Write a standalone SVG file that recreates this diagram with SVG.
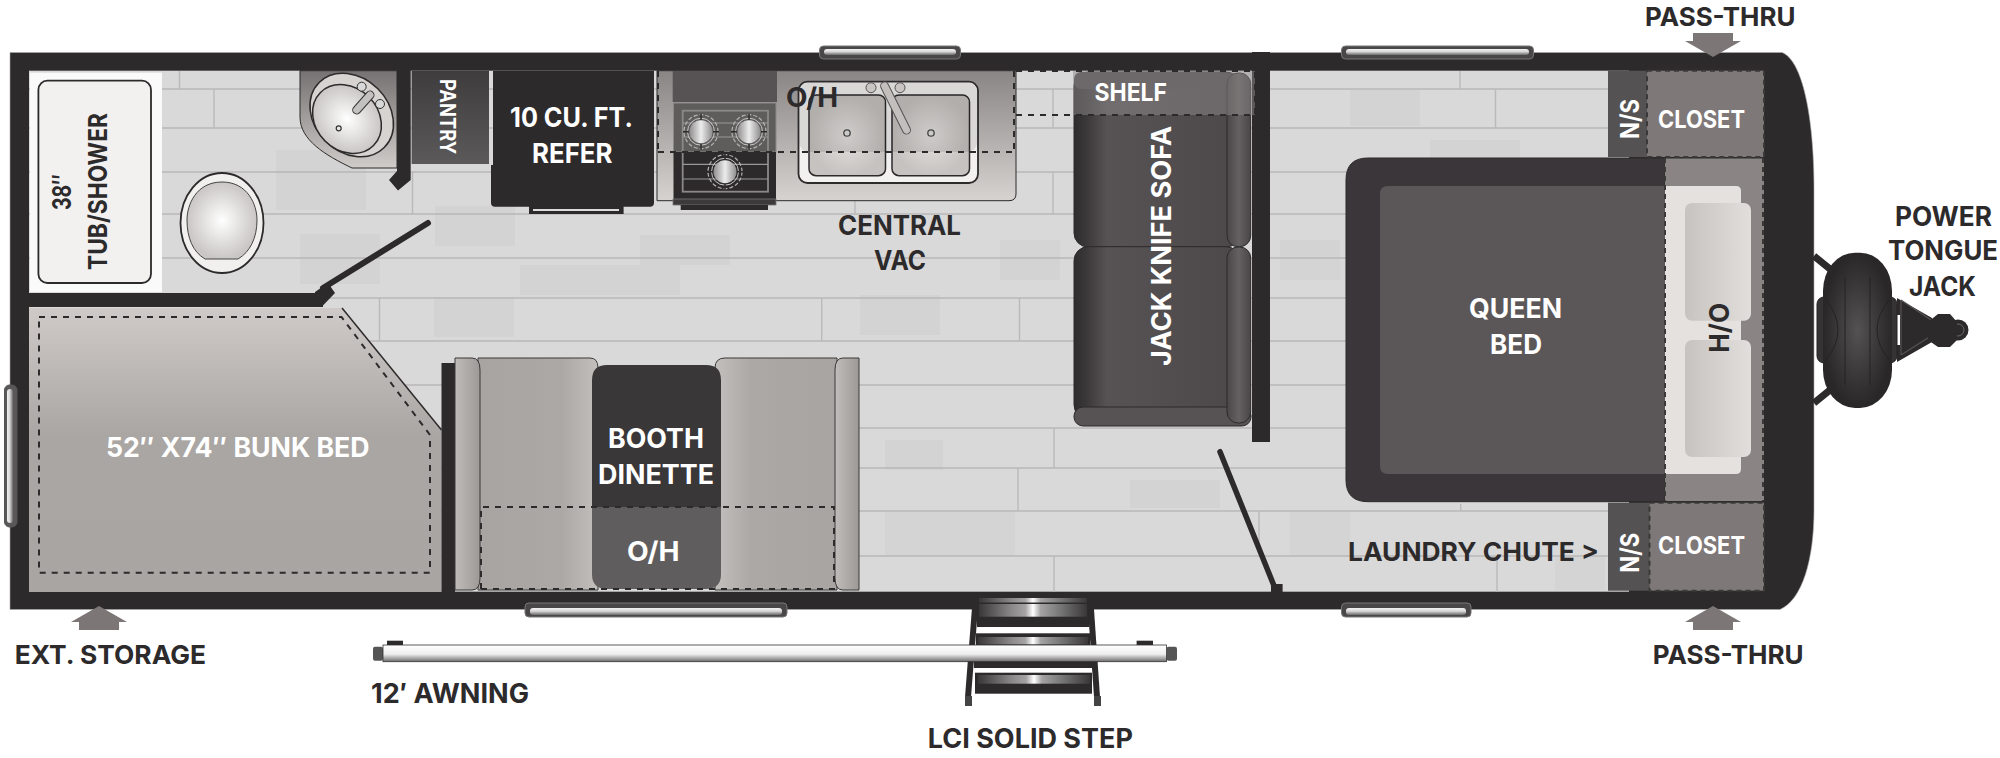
<svg xmlns="http://www.w3.org/2000/svg" width="2000" height="758" viewBox="0 0 2000 758">
<style>
.t{font-family:"Inter","Liberation Sans",sans-serif;font-weight:700;fill:#2d2a2c;font-size:27px}
.w{fill:#fff}
.s20{font-size:21px}.s23{font-size:24px}.s24{font-size:26px}.s25{font-size:26px}
.d{fill:none;stroke:#2d2a2c;stroke-width:2;stroke-dasharray:6 6}
.dl{fill:none;stroke:#3b3839;stroke-width:2;stroke-dasharray:5 4}
.wall{fill:#2d2a2c}
.pl{stroke:#b9b7b7;stroke-width:1.700;fill:none}
.pj{stroke:#bbb9b9;stroke-width:1.400;fill:none}
.arr{fill:#7d7676}
</style>
<defs>
<linearGradient id="gBunk" x1="0" y1="0" x2="0" y2="1"><stop offset="0" stop-color="#cfcac7"/><stop offset=".45" stop-color="#aaa6a3"/><stop offset="1" stop-color="#a9a5a2"/></linearGradient>
<linearGradient id="gSeat" x1="0" y1="0" x2="1" y2="0"><stop offset="0" stop-color="#a8a4a1"/><stop offset=".7" stop-color="#aca8a5"/><stop offset="1" stop-color="#c3bfbc"/></linearGradient>
<linearGradient id="gSeatR" x1="1" y1="0" x2="0" y2="0"><stop offset="0" stop-color="#a8a4a1"/><stop offset=".7" stop-color="#aca8a5"/><stop offset="1" stop-color="#c3bfbc"/></linearGradient>
<linearGradient id="gArm" x1="0" y1="0" x2="1" y2="0"><stop offset="0" stop-color="#c0bcb9"/><stop offset="1" stop-color="#9d9996"/></linearGradient>
<linearGradient id="gVan" x1="0" y1="0" x2="0" y2="1"><stop offset="0" stop-color="#767172"/><stop offset="1" stop-color="#d0ccc9"/></linearGradient>
<linearGradient id="gCnt" x1="0" y1="0" x2="0" y2="1"><stop offset="0" stop-color="#8a8585"/><stop offset="1" stop-color="#d6d3d0"/></linearGradient>
<linearGradient id="gPan" x1="0" y1="0" x2="0" y2="1"><stop offset="0" stop-color="#3f3c3e"/><stop offset="1" stop-color="#5c595a"/></linearGradient>
<radialGradient id="gBowl"><stop offset="0" stop-color="#fff"/><stop offset="1" stop-color="#c9c6c4"/></radialGradient>
<radialGradient id="gSink"><stop offset="0" stop-color="#e6e3e1"/><stop offset="1" stop-color="#c6c2bf"/></radialGradient>
<linearGradient id="gSofa" x1="0" y1="0" x2="1" y2="0"><stop offset="0" stop-color="#2f2c2e"/><stop offset=".08" stop-color="#3c393b"/><stop offset=".2" stop-color="#575355"/><stop offset="1" stop-color="#4c484a"/></linearGradient>
<linearGradient id="gSofaArm" x1="0" y1="0" x2="1" y2="0"><stop offset="0" stop-color="#4b4749"/><stop offset=".5" stop-color="#656162"/><stop offset="1" stop-color="#4a4648"/></linearGradient>
<linearGradient id="gBand" x1="0" y1="0" x2="0" y2="1"><stop offset="0" stop-color="#f2f2f2"/><stop offset=".45" stop-color="#d8d8d8"/><stop offset="1" stop-color="#6a6868"/></linearGradient>
<linearGradient id="gBandV" x1="0" y1="0" x2="1" y2="0"><stop offset="0" stop-color="#f2f2f2"/><stop offset=".45" stop-color="#d8d8d8"/><stop offset="1" stop-color="#6a6868"/></linearGradient>
<linearGradient id="gTube" x1="0" y1="0" x2="0" y2="1"><stop offset="0" stop-color="#fff"/><stop offset=".55" stop-color="#eee"/><stop offset="1" stop-color="#6d6a6a"/></linearGradient>
<linearGradient id="gTread" x1="0" y1="0" x2="1" y2="0"><stop offset="0" stop-color="#3a3739"/><stop offset=".3" stop-color="#8a8888"/><stop offset=".43" stop-color="#a5a3a3"/><stop offset=".5" stop-color="#fff"/><stop offset=".57" stop-color="#a5a3a3"/><stop offset=".75" stop-color="#777"/><stop offset="1" stop-color="#3a3739"/></linearGradient>
<linearGradient id="gPillow" x1="0" y1="0" x2="1" y2="0"><stop offset="0" stop-color="#c6c3c0"/><stop offset="1" stop-color="#e1dedb"/></linearGradient>
<radialGradient id="gTire"><stop offset="0" stop-color="#555253"/><stop offset=".7" stop-color="#363335"/><stop offset="1" stop-color="#2a2729"/></radialGradient>
<linearGradient id="gBurn" x1="0" y1="0" x2="1" y2="0"><stop offset="0" stop-color="#8f8d8d"/><stop offset=".5" stop-color="#ececec"/><stop offset="1" stop-color="#8f8d8d"/></linearGradient>
<g id="burner"><circle r="17" fill="none" stroke="#b5b3b3" stroke-width="1.200" stroke-dasharray="4 2"/><circle r="13.500" fill="none" stroke="#c8c6c6" stroke-width="1"/><circle r="11.500" fill="url(#gBurn)"/><path d="M-18 0H-12M12 0H18M0 -18V-12M0 12V18" stroke="#2d2a2c" stroke-width="1.500"/></g>
<path id="arrowUp" class="arr" d="M0 0L28 16H20V24H-20V16H-28Z"/>
</defs>

<g id="shell"><path class="wall" stroke="#aaa" stroke-width=".6" d="M10 52.500H1782C1802 60 1814 115 1814 190V510C1814 560 1802 600 1780 609.500H10Z"/></g>

<g id="floor">
<rect x="29" y="70.700" width="1600" height="521" fill="#d9d9d9"/>
<g fill="#000" opacity=".018">
<rect x="276" y="150" width="90" height="60"/><rect x="300" y="234" width="80" height="50"/><rect x="435" y="206" width="80" height="40"/><rect x="520" y="265" width="160" height="30"/>
<rect x="434" y="297" width="80" height="40"/><rect x="640" y="235" width="90" height="30"/><rect x="860" y="295" width="80" height="40"/><rect x="1000" y="240" width="60" height="40"/>
<rect x="885" y="440" width="58" height="30"/><rect x="885" y="512" width="130" height="44"/><rect x="1130" y="480" width="90" height="28"/><rect x="1290" y="512" width="60" height="44"/><rect x="1350" y="90" width="70" height="36"/>
<rect x="1280" y="240" width="60" height="40"/><rect x="1555" y="556" width="50" height="34"/><rect x="1430" y="140" width="90" height="18"/></g>
<g class="pl"><path d="M29 89H1608M29 128H1608M29 172H1608M29 214H1608M29 258H1608M29 298H1608M29 341H1608M29 385H1608M29 428H1608M29 468H1608M29 511H1608M29 556H1608"/></g>
<g class="pj"><path d="M179.500 71V89M214 89V128M412.500 172V214M379.500 298V341M1053 89V128M1053 172V214M855 200V214M821.700 298V341M1019.500 298V341M1460 71V89M1495.500 89V128M1054 428V468M1018 468V511M1259 511V556M1054 556V592M1460.700 504V511M1497 556V592"/></g>
</g>

<g id="tub">
<rect x="30" y="72.700" width="132" height="219.300" fill="#fafafa"/>
<rect x="38.400" y="80.700" width="112.600" height="202.300" rx="9" fill="#f2f1f0" stroke="#2d2a2c" stroke-width="1.800"/>
<text class="t s25" textLength="36" lengthAdjust="spacingAndGlyphs" transform="translate(71.400 210) rotate(-90)">38″</text>
<text class="t s25" textLength="157" lengthAdjust="spacingAndGlyphs" transform="translate(107 270) rotate(-90)">TUB/SHOWER</text>
</g>

<g id="toilet">
<ellipse cx="222" cy="223" rx="41.500" ry="50" fill="#f1f0ef" stroke="#2d2a2c" stroke-width="1.800"/>
<path d="M222 182C248 182 257 205 257 220C257 238 250 252 238 259L205 259C193 252 187 238 187 220C187 205 196 182 222 182Z" fill="url(#gBowl)" stroke="#444" stroke-width="1"/>
</g>

<g id="vanity">
<path d="M300 70.700H397V168H352C325 155 300 140 300 117Z" fill="url(#gVan)" stroke="#2d2a2c" stroke-width="1"/>
<ellipse cx="351.700" cy="115" rx="46" ry="37" transform="rotate(45 351.700 115)" fill="#d6d3d1" stroke="#2d2a2c" stroke-width="1.500"/>
<ellipse cx="347" cy="119" rx="37.500" ry="31" transform="rotate(45 347 119)" fill="url(#gBowl)" stroke="#2d2a2c" stroke-width="1.500"/>
<circle cx="361.700" cy="86.700" r="4.500" fill="#d8d8d8" stroke="#333"/><circle cx="380" cy="104" r="4.500" fill="#d8d8d8" stroke="#333"/>
<path d="M356.700 110L370 95" stroke="#333" stroke-width="9" stroke-linecap="round"/><path d="M356.700 110L370 95" stroke="#c4c2c0" stroke-width="7" stroke-linecap="round"/>
<circle cx="338.700" cy="128.300" r="2.500" fill="none" stroke="#333" stroke-width="1.200"/>
</g>

<g id="bath-walls">
<rect class="wall" x="29" y="293" width="294" height="14"/>
<path class="wall" d="M315 292L328 283L335 293L322 306.500H315Z"/>
<path d="M428 223L323 288" stroke="#2d2a2c" stroke-width="6" stroke-linecap="round"/>
<path class="wall" d="M397 70H410.700V180L398 190.500L389 180L397 171Z"/>
</g>

<g id="pantry">
<rect x="411.600" y="70.700" width="77.400" height="93.300" fill="url(#gPan)"/>
<text class="t w s20" textLength="75" lengthAdjust="spacingAndGlyphs" transform="translate(440 79) rotate(90)">PANTRY</text>
</g>

<g id="refer">
<path class="wall" d="M493 70.700H654V203Q654 206.700 650 206.700H495Q491 206.700 491 203V165H493Z"/>
<rect class="wall" x="529" y="206" width="94.600" height="8"/><rect x="533" y="209" width="86" height="2" fill="#ddd"/>
<text class="t w" x="510" y="127" textLength="123" lengthAdjust="spacingAndGlyphs">10 CU. FT.</text>
<text class="t w" x="532" y="162.700" textLength="80.500" lengthAdjust="spacingAndGlyphs">REFER</text>
</g>

<g id="kitchen">
<path d="M657 70.700H1016V194Q1016 200.700 1009 200.700H657Z" fill="url(#gCnt)" stroke="#2d2a2c" stroke-width="1"/>
<rect x="672.700" y="71" width="104.300" height="31" fill="#575354"/>
<rect x="673.500" y="103" width="102.500" height="49" fill="#5f5c5c" stroke="#8b8888"/>
<rect x="673.500" y="152" width="102.500" height="47" fill="#2d2a2c"/>
<rect x="673" y="199" width="103" height="6" fill="#3d3a3c" stroke="#777" stroke-width=".8"/><rect class="wall" x="680.700" y="205" width="87.300" height="5"/>
<rect x="682.700" y="110.700" width="85.300" height="81" fill="none" stroke="#8b8888" stroke-width="1.800"/>
<path d="M683 123H768M683 137H768M683 164.300H768M683 179H768" stroke="#9a9797" stroke-width="1.200"/>
<use href="#burner" x="701" y="131.700"/><use href="#burner" x="749" y="131.700"/><use href="#burner" x="725" y="171.700"/>
<rect x="798.500" y="81.700" width="179.500" height="101.300" rx="9" fill="#f2f1f0" stroke="#2d2a2c" stroke-width="1.800"/>
<rect x="809" y="95" width="76.500" height="80.700" rx="7" fill="url(#gSink)" stroke="#2d2a2c" stroke-width="1.500"/>
<rect x="892" y="95" width="77.500" height="80.700" rx="7" fill="url(#gSink)" stroke="#2d2a2c" stroke-width="1.500"/>
<rect x="799.500" y="82.500" width="177.500" height="69.500" rx="9" fill="#000" opacity=".1"/>
<circle cx="871" cy="87.700" r="5" fill="#c8c5c2" stroke="#555"/><circle cx="900" cy="87.700" r="5" fill="#c8c5c2" stroke="#555"/>
<path d="M884.600 86L906.500 130" stroke="#555" stroke-width="9" stroke-linecap="round"/><path d="M884.600 86L906.500 130" stroke="#c2bfbc" stroke-width="7" stroke-linecap="round"/>
<circle cx="847" cy="133" r="3.200" fill="none" stroke="#444" stroke-width="1.300"/><circle cx="931" cy="133" r="3.200" fill="none" stroke="#444" stroke-width="1.300"/>
<path class="d" d="M658 152H1014M658 71V152M1014 71V152"/>
<text class="t" x="786" y="106.700" textLength="52" lengthAdjust="spacingAndGlyphs">O/H</text>
<text class="t" x="838" y="235" textLength="123" lengthAdjust="spacingAndGlyphs">CENTRAL</text>
<text class="t" x="874" y="270" textLength="52" lengthAdjust="spacingAndGlyphs">VAC</text>
</g>

<g id="divider"><rect class="wall" x="1252" y="52" width="18" height="390"/></g>

<g id="sofa">
<rect x="1074" y="72" width="166" height="175" rx="14" fill="url(#gSofa)" stroke="#2d2a2c"/>
<rect x="1074" y="246.700" width="166" height="172" rx="14" fill="url(#gSofa)" stroke="#2d2a2c"/>
<rect x="1074" y="407" width="177" height="19" rx="9" fill="#575354" stroke="#2d2a2c"/>
<rect x="1074" y="72" width="153" height="17" rx="7" fill="#4e4a4c"/>
<rect x="1227" y="73" width="23.700" height="173.700" rx="11" fill="url(#gSofaArm)" stroke="#2d2a2c"/>
<rect x="1227" y="247" width="23.700" height="176" rx="11" fill="url(#gSofaArm)" stroke="#2d2a2c"/>
<text class="t w" textLength="240" lengthAdjust="spacingAndGlyphs" transform="translate(1171 366) rotate(-90)">JACK KNIFE SOFA</text>
</g>

<g id="shelf">
<rect x="1073" y="71" width="182" height="44" fill="#8c8888" opacity=".5"/>
<path class="d" d="M1016 115H1255V71H1016"/>
<text class="t w s23" x="1094.500" y="100.700" textLength="72.500" lengthAdjust="spacingAndGlyphs">SHELF</text>
</g>

<g id="closets">
<rect x="1608" y="70.700" width="39" height="86.300" fill="#555253"/>
<rect x="1647" y="70.700" width="117" height="86.300" fill="#7f7878"/>
<path class="dl" d="M1647 70.700H1764V157H1647Z"/>
<text class="t w s24" textLength="40" lengthAdjust="spacingAndGlyphs" transform="translate(1639 139) rotate(-90)">N/S</text>
<text class="t w s23" x="1658" y="128" textLength="87" lengthAdjust="spacingAndGlyphs">CLOSET</text>
<rect x="1608" y="502.700" width="41.500" height="88" fill="#555253"/>
<rect x="1649.500" y="502.700" width="114.500" height="88" fill="#7f7878"/>
<path class="dl" d="M1649.500 502.700H1764V590.700H1649.500Z"/>
<text class="t w s24" textLength="40" lengthAdjust="spacingAndGlyphs" transform="translate(1639 572.700) rotate(-90)">N/S</text>
<text class="t w s23" x="1658" y="554" textLength="87" lengthAdjust="spacingAndGlyphs">CLOSET</text>
<text class="t s25" x="1348" y="560.700" textLength="251" lengthAdjust="spacingAndGlyphs">LAUNDRY CHUTE &gt;</text>
</g>

<g id="bed">
<path d="M1368 158H1665V501.700H1368Q1346 501.700 1346 480V180Q1346 158 1368 158Z" fill="#3a3639" stroke="#2d2a2c"/>
<path d="M1665 158.500H1764V501H1665Z" fill="#8b8484"/>
<path d="M1388 186H1665V474H1388Q1380 474 1380 466V194Q1380 186 1388 186Z" fill="#5b5758"/>
<path d="M1665 186H1736Q1741 186 1741 191V469Q1741 474 1736 474H1665Z" fill="#e4e1de"/>
<rect x="1685" y="203" width="66" height="117.700" rx="7" fill="url(#gPillow)"/>
<rect x="1685" y="340" width="66" height="117" rx="7" fill="url(#gPillow)"/>
<path class="dl" d="M1665 158V501M1763 158V501"/>
<text class="t" textLength="49.700" lengthAdjust="spacingAndGlyphs" transform="translate(1728.600 352.700) rotate(-90)">H/O</text>
<text class="t w" x="1469" y="318" textLength="93" lengthAdjust="spacingAndGlyphs">QUEEN</text>
<text class="t w" x="1490" y="354" textLength="52" lengthAdjust="spacingAndGlyphs">BED</text>
</g>

<g id="bunk">
<rect x="4.500" y="385" width="12.500" height="142" rx="5" fill="#5a5758" stroke="#555" stroke-width="1"/>
<rect x="7" y="389" width="6" height="134" rx="3" fill="url(#gBandV)"/>
<path d="M29 308H342L441.500 430V591.700H29Z" fill="url(#gBunk)"/>
<path d="M342 308L441.500 430" stroke="#2d2a2c" stroke-width="1.500"/>
<path class="d" d="M39 317H341.500L430 435V572.700H39Z"/>
<text class="t w" x="106" y="456.700" textLength="263.600" lengthAdjust="spacingAndGlyphs">52″ X74″ BUNK BED</text>
</g>

<g id="dinette">
<rect class="wall" x="441.500" y="363" width="13.500" height="229"/>
<path d="M478 358H590Q598 358 598 368V590H478Z" fill="url(#gSeat)" stroke="#3b3839" stroke-width="1"/>
<path d="M837 358H725Q715 358 715 368V590H837Z" fill="url(#gSeatR)" stroke="#3b3839" stroke-width="1"/>
<path d="M455 358H472Q480 358 480 370V578Q480 590 472 590H455Z" fill="url(#gArm)" stroke="#3b3839" stroke-width="1"/>
<path d="M859 358H843Q835 358 835 370V578Q835 590 843 590H859Z" fill="url(#gArm)" stroke="#3b3839" stroke-width="1"/>
<path d="M607 365H706Q721 365 721 380V507H592V380Q592 365 607 365Z" fill="#3a3739"/>
<path d="M592 507H721V574Q721 589 706 589H607Q592 589 592 574Z" fill="#605d5e"/>
<path class="d" d="M481 589V507H834V589H481"/>
<text class="t w" x="608" y="448" textLength="96" lengthAdjust="spacingAndGlyphs">BOOTH</text>
<text class="t w" x="598" y="484" textLength="116" lengthAdjust="spacingAndGlyphs">DINETTE</text>
<text class="t w" x="627" y="560.700" textLength="52.500" lengthAdjust="spacingAndGlyphs">O/H</text>
</g>

<g id="entry-door">
<path d="M1220 451.700L1273.700 585" stroke="#2d2a2c" stroke-width="5.500" stroke-linecap="round"/>
<rect class="wall" x="1271" y="584" width="11.600" height="8"/>
</g>

<g id="windows">
<g fill="#4a4748" stroke="#777" stroke-width="1">
<rect x="819.500" y="46" width="141" height="13" rx="4"/><rect x="1341.500" y="46" width="192" height="13" rx="4"/>
<rect x="525" y="603" width="262" height="14" rx="4"/><rect x="1341.500" y="603" width="129.500" height="14" rx="4"/></g>
<g fill="url(#gBand)">
<rect x="824" y="49" width="132" height="6" rx="3"/><rect x="1346" y="49" width="183" height="6" rx="3"/>
<rect x="530" y="608" width="252" height="7" rx="3"/><rect x="1346" y="608" width="120" height="7" rx="3"/></g>
</g>

<g id="jack">
<path d="M1814 256L1830 269M1814 403L1830 390" stroke="#2d2a2c" stroke-width="7"/>
<path d="M1897 298L1932 318V342L1897 362Z" fill="#2d2a2c"/>
<path d="M1897 315H1900V345H1897Z" fill="#fff"/>
<path d="M1901 300L1931 320M1901 355L1931 336M1901 300V355" stroke="#565354" stroke-width="1.200" fill="none"/>
<rect x="1817" y="297" width="80" height="66" rx="7" fill="#363335" stroke="#252224"/>
<rect x="1823" y="252.700" width="69" height="155.300" rx="32" ry="38" fill="url(#gTire)"/>
<path d="M1845 277V385M1870 277V385" stroke="#252224" stroke-width="1" fill="none"/>
<path d="M1826 300Q1838 315 1838 330T1826 360M1889 300Q1877 315 1877 330T1889 360" stroke="#252224" stroke-width="1" fill="none"/>
<circle cx="1958" cy="330" r="10.500" fill="#2d2a2c"/><circle cx="1958" cy="330" r="6" fill="none" stroke="#6a6768" stroke-width="1"/>
<path d="M1928 322L1938 314H1950L1957 322V340L1950 347H1938L1928 340Z" fill="#2d2a2c"/>
<text class="t" x="1895" y="226" textLength="97" lengthAdjust="spacingAndGlyphs">POWER</text>
<text class="t" x="1888" y="260" textLength="110" lengthAdjust="spacingAndGlyphs">TONGUE</text>
<text class="t" x="1909" y="296" textLength="67" lengthAdjust="spacingAndGlyphs">JACK</text>
</g>

<g id="step">
<rect class="wall" x="977" y="595" width="112" height="32"/>
<rect x="979" y="598" width="108" height="4.500" fill="url(#gTread)"/>
<rect x="979" y="604" width="108" height="12.700" fill="url(#gTread)"/>
<rect x="978" y="628.300" width="110" height="5" fill="#fff"/>
<rect class="wall" x="976" y="633.300" width="114" height="13"/>
<rect x="978" y="637" width="110" height="7.500" fill="url(#gTread)"/>
<rect class="wall" x="974" y="661" width="118" height="7"/>
<rect x="980" y="668" width="109" height="4.700" fill="#fff"/>
<rect class="wall" x="975" y="672.700" width="117" height="21"/>
<rect x="978" y="675" width="112" height="8.700" fill="url(#gTread)"/>
<path class="wall" d="M973 595H979L971 697H965Z"/><path class="wall" d="M1087 595H1093L1100 697H1094Z"/>
<rect x="965" y="696" width="7" height="10" fill="#444"/><rect x="1094" y="696" width="7" height="10" fill="#444"/>
<text class="t" x="927.700" y="748" textLength="205.300" lengthAdjust="spacingAndGlyphs">LCI SOLID STEP</text>
</g>

<g id="awning">
<rect class="wall" x="387" y="640.700" width="16" height="5"/><rect class="wall" x="1136.600" y="640.700" width="16.400" height="5"/>
<rect x="373" y="646.700" width="10" height="14" rx="2" fill="#555"/><rect x="1166.500" y="646.700" width="10.500" height="14" rx="2" fill="#555"/>
<rect x="383" y="645" width="783.500" height="16.700" fill="url(#gTube)" stroke="#333" stroke-width=".8"/>
<text class="t" x="371" y="703" textLength="158" lengthAdjust="spacingAndGlyphs">12′ AWNING</text>
</g>

<g id="pass-thru-top">
<use href="#arrowUp" transform="translate(1713 57) scale(1 -1)"/>
<text class="t s25" x="1645" y="26" textLength="150.500" lengthAdjust="spacingAndGlyphs">PASS-THRU</text>
</g>
<g id="pass-thru-bottom">
<use href="#arrowUp" transform="translate(1713 606)"/>
<text class="t s25" x="1652.700" y="664" textLength="150.900" lengthAdjust="spacingAndGlyphs">PASS-THRU</text>
</g>
<g id="ext-storage">
<use href="#arrowUp" transform="translate(99 606)"/>
<text class="t s25" x="14.700" y="664" textLength="191.300" lengthAdjust="spacingAndGlyphs">EXT. STORAGE</text>
</g>
</svg>
